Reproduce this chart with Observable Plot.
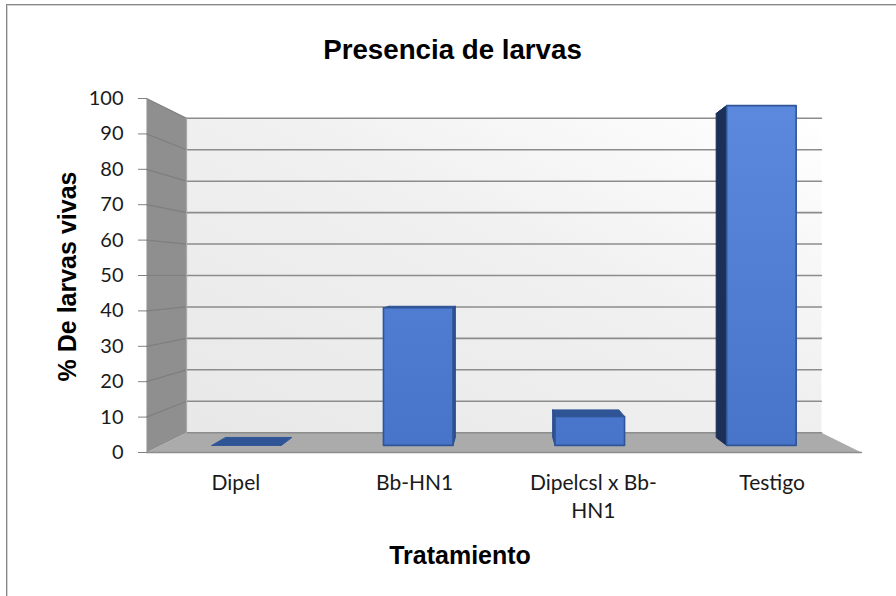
<!DOCTYPE html>
<html><head><meta charset="utf-8">
<style>
html,body{margin:0;padding:0;background:#fff;width:896px;height:596px;overflow:hidden}
#frame{position:absolute;left:6px;top:4px;right:0;bottom:0;border-left:1px solid #868686;border-top:1px solid #868686;box-shadow:inset 1px 1px 0 #d4d4d4;pointer-events:none}
figure{margin:0!important;padding:0}
figure h2{margin:0;height:72px;box-sizing:border-box;padding:35px 0 0 0;width:905px;text-align:center;font:bold 27.7px/30px "Liberation Sans",Arial,sans-serif;color:#000}
svg{display:block}
</style>
<script src="https://cdn.jsdelivr.net/npm/d3@7"></script>
<script src="https://cdn.jsdelivr.net/npm/@observablehq/plot@0.6"></script>
</head><body>
<div id="chart"></div><div id="frame"></div>
<script>
const categories = ["Dipel","Bb-HN1","Dipelcsl x Bb-\nHN1","Testigo"];
const larvas = [0,40.5,8.5,100];
const yTicks = [0,10,20,30,40,50,60,70,80,90,100];
const chartTitle = "Presencia de larvas";
const xTitle = "Tratamiento";
const yTitle = "% De larvas vivas";

// one-point perspective in data units: depth 0 = front plane, 1 = back wall
const shrink = 0.112, barFront = 0.357, barBack = 0.76, barWidth = 0.405;
const px = (c,d) => 2 + (c-2)*(1-shrink*d);
const py = (v,d) => 50 + (v-50)*(1-shrink*d);
const P = (c,v,d) => ({c:px(c,d), v:py(v,d)});
const quad = (pts,opts) => Plot.line([...pts,pts[0]],{x:"c",y:"v",curve:"linear",...opts});

const defs = () => {
  const s = d3.create("svg:defs");
  const w = s.append("linearGradient").attr("id","wall").attr("x1",0).attr("y1",1).attr("x2",1).attr("y2",0);
  w.append("stop").attr("offset","0%").attr("stop-color","#e8e8e8");
  w.append("stop").attr("offset","55%").attr("stop-color","#f0f0f0");
  w.append("stop").attr("offset","100%").attr("stop-color","#ffffff");
  const b = s.append("linearGradient").attr("id","bar").attr("gradientUnits","userSpaceOnUse").attr("x1",0).attr("y1",30).attr("x2",0).attr("y2",380);
  b.append("stop").attr("offset","0%").attr("stop-color","#5c88de");
  b.append("stop").attr("offset","100%").attr("stop-color","#4773c9");
  return s.node();
};

const marks = [defs];
// floor, side wall, back wall
marks.push(quad([P(0,0,0),P(4,0,0),P(4,0,1),P(0,0,1)],{fill:"#ababab",stroke:"none"}));
marks.push(quad([P(0,0,0),P(0,100,0),P(0,100,1),P(0,0,1)],{fill:"#8f8f8f",stroke:"none"}));
marks.push(quad([P(0,0,1),P(0,100,1),P(4,100,1),P(4,0,1)],{fill:"url(#wall)",stroke:"none"}));
// gridlines
for (const t of yTicks) {
  if (t>0) marks.push(Plot.line([P(0,t,0),P(0,t,1)],{x:"c",y:"v",stroke:"#7f7f7f",strokeWidth:1.2}));
  marks.push(Plot.line([P(0,t,1),P(4,t,1)],{x:"c",y:"v",stroke:"#8c8c8c",strokeWidth:1.6}));
}
marks.push(Plot.line([P(0,0,1),P(0,100,1)],{x:"c",y:"v",stroke:"#a8a8a8",strokeWidth:1.2}));
marks.push(Plot.line([P(0,0,0),P(4,0,0)],{x:"c",y:"v",stroke:"#8c8c8c",strokeWidth:1.4}));
// bars
larvas.forEach((val,i)=>{
  const a=i+0.5-barWidth/2, b=i+0.5+barWidth/2;
  const sideC = i<2 ? b : a;
  const sideFill = i===3 ? "#1b2f57" : "#2b4f90";
  if (val===0) {
    marks.push(quad([P(a,0,barFront),P(b,0,barFront),P(b,0,barBack),P(a,0,barBack)],{fill:"#2f5597",stroke:"#2f5597",strokeWidth:1}));
    return;
  }
  marks.push(quad([P(a,val,barBack),P(b,val,barBack),P(b,val,barFront),P(a,val,barFront)],{fill:"#2f5597",stroke:"#2f5597",strokeWidth:1}));
  marks.push(quad([P(sideC,0,barFront),P(sideC,val,barFront),P(sideC,val,barBack),P(sideC,0,barBack)],{fill:sideFill,stroke:sideFill,strokeWidth:1}));
  marks.push(quad([P(a,0,barFront),P(b,0,barFront),P(b,val,barFront),P(a,val,barFront)],{fill:"url(#bar)",stroke:"#2f5597",strokeWidth:1.6}));
});
// axes
marks.push(Plot.axisY({ticks:yTicks,tickSize:8,tickPadding:15,stroke:"#808080",color:"#1a1a1a",fontSize:20,fontFamily:"Lato",label:null}));
marks.push(Plot.axisX({ticks:[0.5,1.5,2.5,3.5],tickFormat:(d)=>categories[Math.floor(d)],tickSize:0,tickPadding:17,color:"#1a1a1a",fontSize:21,fontFamily:"Lato",lineHeight:1.35,lineAnchor:"top",label:null}));
marks.push(Plot.text([yTitle],{frameAnchor:"left",textAnchor:"middle",lineAnchor:"middle",rotate:-90,dx:-79,dy:1,fontSize:25,fontWeight:"bold",fontFamily:"Liberation Sans",fill:"#000"}));
marks.push(Plot.text([xTitle],{frameAnchor:"bottom",lineAnchor:"middle",dx:-44,dy:103,fontSize:25,fontWeight:"bold",fontFamily:"Liberation Sans",fill:"#000"}));

const plot = Plot.plot({
  title: chartTitle,
  width:896,height:524,
  marginLeft:146,marginRight:35,marginTop:26,marginBottom:144,
  x:{type:"linear",domain:[0,4],axis:null},
  y:{type:"linear",domain:[0,100],axis:null},
  style:{background:"transparent",overflow:"visible"},
  marks
});
document.getElementById("chart").append(plot);
</script>
</body></html>
